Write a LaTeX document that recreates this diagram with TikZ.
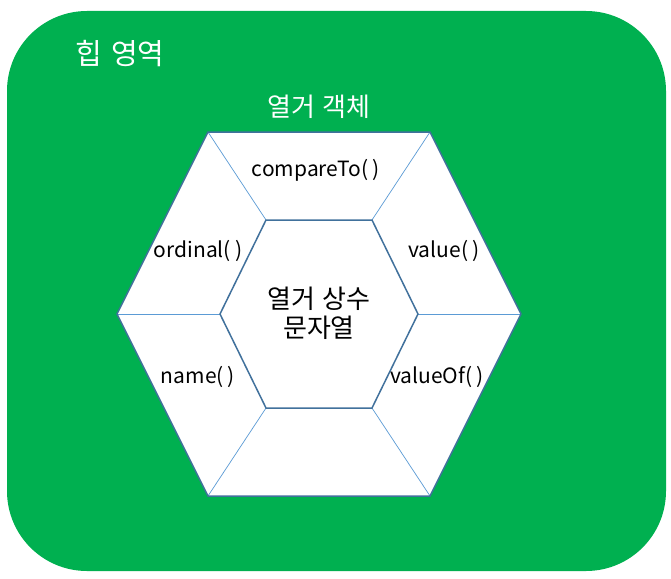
\documentclass[tikz,border=0pt]{standalone}
\usepackage{fontspec}
\setmainfont{Noto Sans CJK KR}
\begin{document}
\begin{tikzpicture}[x=1pt,y=-1pt,
  hexline/.style={draw=hexblue,line width=1.5pt,line join=miter},
  spoke/.style={draw=spokeblue,line width=0.7pt},
  lbl/.style={font=\fontsize{21}{24}\selectfont,text=black,inner sep=0pt},
  wlbl/.style={font=\fontsize{26}{30}\selectfont,text=white,inner sep=0pt}]
\definecolor{heapgreen}{HTML}{00B050}
\definecolor{hexblue}{HTML}{41719C}
\definecolor{spokeblue}{HTML}{5B9BD5}
\useasboundingbox (0,0) rectangle (671,578);
\fill[heapgreen,rounded corners=80pt] (7,11) rectangle (666,571);
% outer hexagon
\coordinate (o1) at (208,132);
\coordinate (o2) at (430,132);
\coordinate (o3) at (521,314);
\coordinate (o4) at (430,496);
\coordinate (o5) at (208,496);
\coordinate (o6) at (117,314);
\coordinate (i1) at (266,220);
\coordinate (i2) at (372,220);
\coordinate (i3) at (418,314);
\coordinate (i4) at (372,408);
\coordinate (i5) at (266,408);
\coordinate (i6) at (220,314);
\fill[white] (o1)--(o2)--(o3)--(o4)--(o5)--(o6)--cycle;
\foreach \k in {1,...,6}{\draw[spoke] (o\k)--(i\k);}
\draw[hexline] (o1)--(o2)--(o3)--(o4)--(o5)--(o6)--cycle;
\draw[hexline] (i1)--(i2)--(i3)--(i4)--(i5)--(i6)--cycle;
\node[wlbl,font=\fontsize{29}{32}\selectfont] (heap) at (120,54) {힙\hspace{0.3em}영역};
\node[wlbl] (obj) at (319,107) {열거\hspace{0.3em}객체};
\node[lbl] (cmp) at (316,170) {compareTo(\hspace{0.2em})};
\node[lbl] (val) at (444,251) {value(\hspace{0.2em})};
\node[lbl] (ord) at (198,251) {ordinal(\hspace{0.2em})};
\node[lbl] (nam) at (198,377) {name(\hspace{0.2em})};
\node[lbl] (vof) at (437,377) {valueOf(\hspace{0.2em})};
\node[lbl,font=\fontsize{26}{29}\selectfont,align=center] (cst) at (319,313) {열거\hspace{0.3em}상수\\문자열};
\end{tikzpicture}
\end{document}
